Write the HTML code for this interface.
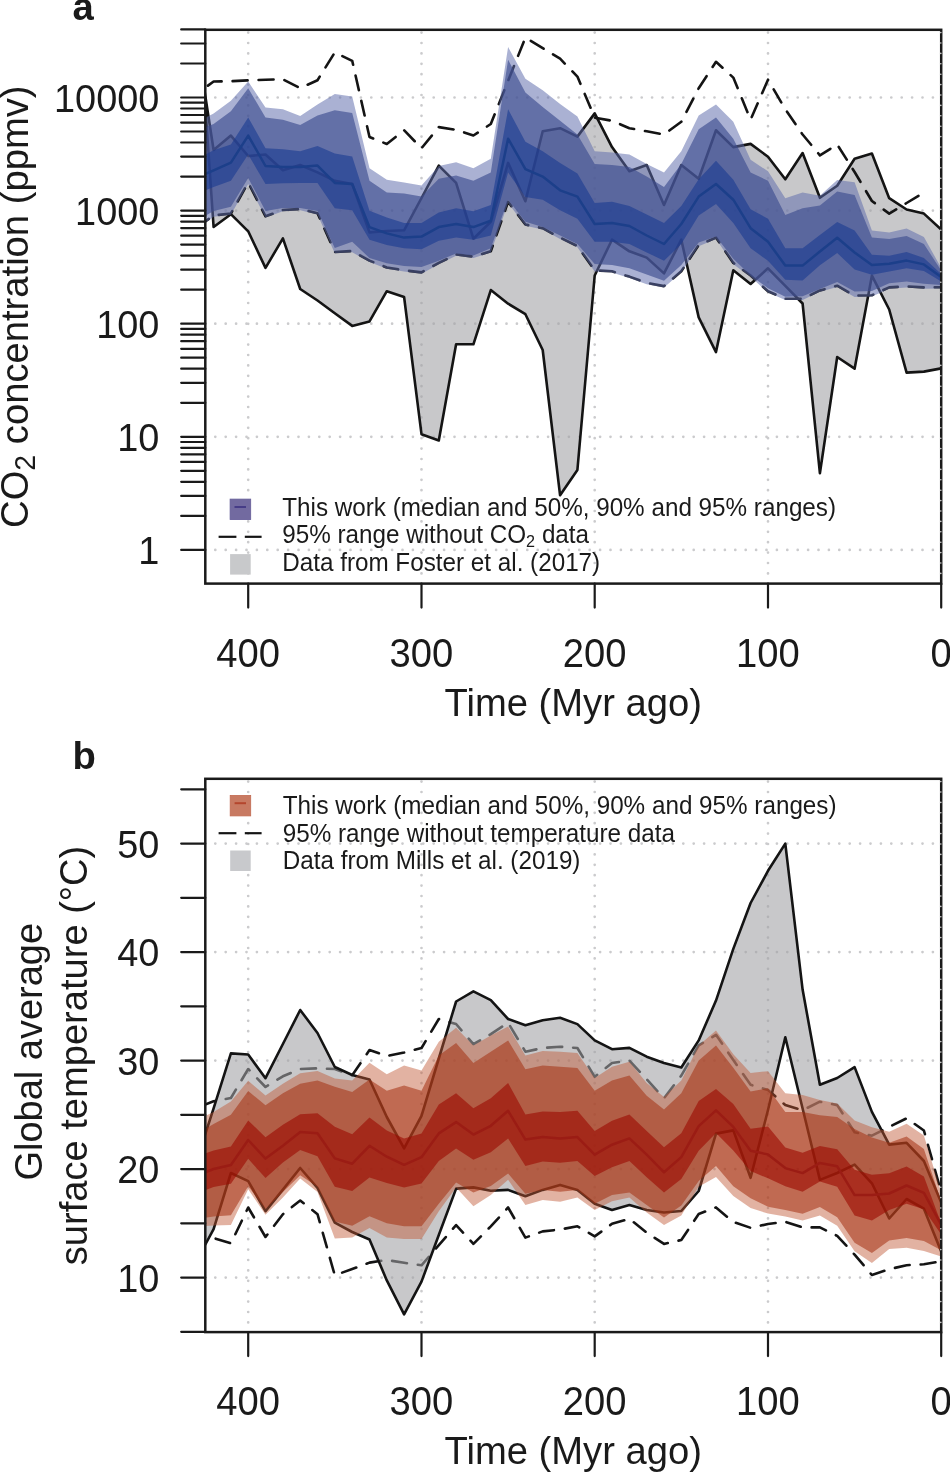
<!DOCTYPE html>
<html><head><meta charset="utf-8"><style>html,body{margin:0;padding:0;background:#fff;width:950px;height:1473px;overflow:hidden}svg{display:block;will-change:transform}</style></head>
<body>
<svg width="950" height="1473" viewBox="0 0 950 1473">
<defs>
<clipPath id="ca"><rect x="205.3" y="29.8" width="735.9" height="553.8"/></clipPath>
<clipPath id="cb"><rect x="205.3" y="778.8" width="735.9" height="553.3"/></clipPath>
</defs>
<style>
.grid{stroke:#cbcbcd;stroke-width:2.7;stroke-dasharray:0.01 10.39;stroke-linecap:round;fill:none}
.tick{stroke:#1a1a1a;stroke-width:2.2;stroke-linecap:round}
.lab{font-family:"Liberation Sans", sans-serif;font-size:38.2px;fill:#1a1a1a}
.dash{fill:none;stroke:#141414;stroke-width:2.6;stroke-dasharray:15 11;stroke-linecap:round;stroke-linejoin:round}
.blk{fill:none;stroke:#141414;stroke-width:2.6;stroke-linejoin:round}
</style>
<rect width="950" height="1473" fill="#fff"/>
<g clip-path="url(#ca)">
<line x1="248.2" y1="32.6" x2="248.2" y2="583.6" class="grid"/>
<line x1="421.5" y1="32.6" x2="421.5" y2="583.6" class="grid"/>
<line x1="594.7" y1="32.6" x2="594.7" y2="583.6" class="grid"/>
<line x1="768.0" y1="32.6" x2="768.0" y2="583.6" class="grid"/>
<line x1="941.2" y1="32.6" x2="941.2" y2="583.6" class="grid"/>
<line x1="215.3" y1="549.9" x2="941.2" y2="549.9" class="grid"/>
<line x1="215.3" y1="436.8" x2="941.2" y2="436.8" class="grid"/>
<line x1="215.3" y1="323.7" x2="941.2" y2="323.7" class="grid"/>
<line x1="215.3" y1="210.6" x2="941.2" y2="210.6" class="grid"/>
<line x1="215.3" y1="97.5" x2="941.2" y2="97.5" class="grid"/>
<polygon points="204.0,87.5 213.6,150.0 230.9,135.6 248.2,156.0 265.5,154.5 282.9,170.3 300.2,165.0 317.5,172.4 334.8,180.8 352.2,184.0 369.5,232.4 386.8,231.0 404.1,230.3 421.5,198.0 438.8,165.6 456.1,182.9 473.4,238.7 490.8,221.8 508.1,162.9 525.4,201.2 542.7,131.3 560.1,128.2 577.4,136.6 594.7,113.4 612.0,147.1 629.4,171.3 646.7,165.0 664.0,205.0 681.3,165.0 698.7,178.7 716.0,130.3 733.3,147.1 750.6,143.9 768.0,156.7 785.3,179.3 802.6,153.0 819.9,197.8 837.2,185.7 854.6,158.7 871.9,153.5 889.2,198.2 906.6,209.5 923.9,213.6 941.2,229.5 941.2,368.4 923.9,371.6 906.6,372.6 889.2,309.5 871.9,275.7 854.6,368.7 837.2,357.0 819.9,473.2 802.6,303.5 785.3,285.8 768.0,268.3 750.6,284.0 733.3,270.3 716.0,352.1 698.7,317.4 681.3,239.7 664.0,273.4 646.7,257.6 629.4,251.3 612.0,239.7 594.7,275.5 577.4,470.0 560.1,495.3 542.7,350.0 525.4,314.2 508.1,303.7 490.8,290.1 473.4,344.3 456.1,344.3 438.8,440.5 421.5,434.2 404.1,297.0 386.8,291.2 369.5,321.4 352.2,325.9 334.8,313.2 317.5,300.5 300.2,289.0 282.9,238.4 265.5,267.9 248.2,231.3 230.9,214.2 213.6,227.0 204.0,87.5" fill="rgb(160,160,164)" fill-opacity="0.58"/>
<polyline points="204.0,88.5 213.6,81.5 230.9,81.2 248.2,80.3 265.5,79.7 282.9,79.3 300.2,88.2 317.5,80.2 334.8,52.4 352.2,60.8 369.5,137.0 386.8,144.0 404.1,130.3 421.5,148.2 438.8,127.1 456.1,129.8 473.4,135.5 490.8,124.0 508.1,80.8 525.4,37.6 542.7,48.2 560.1,58.7 577.4,76.6 594.7,117.6 612.0,120.8 629.4,128.2 646.7,131.3 664.0,134.5 681.3,121.8 698.7,88.2 716.0,61.8 733.3,77.6 750.6,119.7 768.0,79.7 785.3,109.2 802.6,134.5 819.9,155.3 837.2,144.5 854.6,172.0 871.9,201.0 889.2,213.6 906.6,203.0 923.9,192.6" class="dash" stroke-dashoffset="21.1"/>
<polyline points="204.0,222.4 213.6,215.5 230.9,213.5 248.2,182.6 265.5,216.3 282.9,210.0 300.2,209.0 317.5,213.2 334.8,252.0 352.2,251.0 369.5,260.6 386.8,267.5 404.1,270.3 421.5,272.4 438.8,262.9 456.1,254.5 473.4,256.6 490.8,251.3 508.1,201.8 525.4,224.5 542.7,228.2 560.1,237.6 577.4,246.0 594.7,270.3 612.0,271.3 629.4,276.6 646.7,282.9 664.0,286.1 681.3,271.3 698.7,245.0 716.0,237.6 733.3,262.9 750.6,275.5 768.0,291.3 785.3,298.8 802.6,298.8 819.9,290.4 837.2,285.7 854.6,295.6 871.9,295.2 889.2,287.4 906.6,286.3 923.9,287.4 941.2,287.2" class="dash" stroke-dashoffset="9.0"/>
<polyline points="204.0,87.5 213.6,150.0 230.9,135.6 248.2,156.0 265.5,154.5 282.9,170.3 300.2,165.0 317.5,172.4 334.8,180.8 352.2,184.0 369.5,232.4 386.8,231.0 404.1,230.3 421.5,198.0 438.8,165.6 456.1,182.9 473.4,238.7 490.8,221.8 508.1,162.9 525.4,201.2 542.7,131.3 560.1,128.2 577.4,136.6 594.7,113.4 612.0,147.1 629.4,171.3 646.7,165.0 664.0,205.0 681.3,165.0 698.7,178.7 716.0,130.3 733.3,147.1 750.6,143.9 768.0,156.7 785.3,179.3 802.6,153.0 819.9,197.8 837.2,185.7 854.6,158.7 871.9,153.5 889.2,198.2 906.6,209.5 923.9,213.6 941.2,229.5" class="blk"/>
<polyline points="204.0,87.5 213.6,227.0 230.9,214.2 248.2,231.3 265.5,267.9 282.9,238.4 300.2,289.0 317.5,300.5 334.8,313.2 352.2,325.9 369.5,321.4 386.8,291.2 404.1,297.0 421.5,434.2 438.8,440.5 456.1,344.3 473.4,344.3 490.8,290.1 508.1,303.7 525.4,314.2 542.7,350.0 560.1,495.3 577.4,470.0 594.7,275.5 612.0,239.7 629.4,251.3 646.7,257.6 664.0,273.4 681.3,239.7 698.7,317.4 716.0,352.1 733.3,270.3 750.6,284.0 768.0,268.3 785.3,285.8 802.6,303.5 819.9,473.2 837.2,357.0 854.6,368.7 871.9,275.7 889.2,309.5 906.6,372.6 923.9,371.6 941.2,368.4" class="blk"/>
<polygon points="204.0,118.5 213.6,113.4 230.9,100.7 248.2,81.5 265.5,107.5 282.9,109.2 300.2,116.0 317.5,104.6 334.8,94.1 352.2,96.6 369.5,168.2 386.8,179.7 404.1,182.5 421.5,185.4 438.8,166.0 456.1,162.3 473.4,168.2 490.8,158.7 508.1,47.1 525.4,78.7 542.7,90.3 560.1,104.0 577.4,116.6 594.7,151.3 612.0,152.4 629.4,154.5 646.7,164.0 664.0,172.4 681.3,151.3 698.7,115.5 716.0,104.6 733.3,121.8 750.6,159.7 768.0,171.3 785.3,198.3 802.6,192.6 819.9,195.8 837.2,180.0 854.6,182.2 871.9,230.4 889.2,232.6 906.6,228.6 923.9,237.0 941.2,268.0 941.2,288.5 923.9,288.7 906.6,287.6 889.2,288.7 871.9,296.5 854.6,296.9 837.2,287.0 819.9,291.7 802.6,300.1 785.3,300.1 768.0,292.6 750.6,276.8 733.3,264.2 716.0,238.9 698.7,246.3 681.3,272.6 664.0,287.4 646.7,284.2 629.4,277.9 612.0,272.6 594.7,271.6 577.4,247.3 560.1,238.9 542.7,229.5 525.4,225.8 508.1,203.1 490.8,252.6 473.4,257.9 456.1,255.8 438.8,264.2 421.5,273.7 404.1,271.6 386.8,268.8 369.5,261.9 352.2,252.3 334.8,253.3 317.5,214.5 300.2,210.3 282.9,211.3 265.5,217.6 248.2,183.9 230.9,214.8 213.6,216.8 204.0,223.7" fill="rgb(92,105,170)" fill-opacity="0.52"/>
<polygon points="204.0,127.7 213.6,124.0 230.9,111.3 248.2,88.3 265.5,117.6 282.9,119.7 300.2,125.0 317.5,115.5 334.8,110.3 352.2,113.0 369.5,180.8 386.8,192.5 404.1,193.4 421.5,196.6 438.8,178.7 456.1,175.5 473.4,180.8 490.8,172.4 508.1,59.7 525.4,92.4 542.7,107.1 560.1,120.8 577.4,134.5 594.7,164.0 612.0,165.0 629.4,167.1 646.7,176.6 664.0,187.1 681.3,164.0 698.7,129.3 716.0,117.6 733.3,138.7 750.6,172.4 768.0,180.8 785.3,215.0 802.6,208.3 819.9,205.5 837.2,191.5 854.6,195.0 871.9,237.5 889.2,238.9 906.6,236.0 923.9,244.0 941.2,270.5 941.2,285.0 923.9,283.8 906.6,281.5 889.2,283.2 871.9,291.0 854.6,291.5 837.2,282.0 819.9,289.0 802.6,296.2 785.3,296.7 768.0,288.2 750.6,275.5 733.3,258.7 716.0,236.6 698.7,242.4 681.3,265.0 664.0,280.8 646.7,274.5 629.4,268.2 612.0,265.0 594.7,264.0 577.4,244.0 560.1,235.5 542.7,227.1 525.4,221.8 508.1,199.7 490.8,248.2 473.4,255.5 456.1,253.4 438.8,260.8 421.5,267.1 404.1,266.1 386.8,263.3 369.5,258.0 352.2,241.7 334.8,247.9 317.5,211.0 300.2,207.9 282.9,207.9 265.5,211.0 248.2,177.9 230.9,206.8 213.6,211.0 204.0,216.6" fill="rgb(62,77,143)" fill-opacity="0.65"/>
<polygon points="204.0,155.4 213.6,150.3 230.9,144.5 248.2,117.5 265.5,148.2 282.9,149.2 300.2,151.3 317.5,146.0 334.8,153.4 352.2,156.6 369.5,210.8 386.8,217.6 404.1,222.9 421.5,222.9 438.8,212.4 456.1,208.2 473.4,211.3 490.8,205.0 508.1,109.2 525.4,141.8 542.7,151.3 560.1,162.9 577.4,173.4 594.7,202.9 612.0,201.8 629.4,206.1 646.7,214.5 664.0,222.9 681.3,206.1 698.7,179.2 716.0,160.8 733.3,179.7 750.6,209.2 768.0,218.7 785.3,248.3 802.6,248.3 819.9,235.0 837.2,222.0 854.6,230.5 871.9,254.7 889.2,255.8 906.6,252.0 923.9,258.0 941.2,274.0 941.2,281.5 923.9,271.0 906.6,268.3 889.2,271.6 871.9,274.7 854.6,269.4 837.2,253.0 819.9,265.2 802.6,280.4 785.3,279.8 768.0,260.8 750.6,248.2 733.3,222.9 716.0,204.0 698.7,215.5 681.3,244.0 664.0,260.8 646.7,252.4 629.4,244.0 612.0,241.8 594.7,241.8 577.4,218.7 560.1,210.3 542.7,199.7 525.4,197.0 508.1,172.4 490.8,235.5 473.4,239.7 456.1,237.6 438.8,240.8 421.5,249.2 404.1,248.2 386.8,245.0 369.5,239.7 352.2,210.3 334.8,208.2 317.5,182.9 300.2,182.9 282.9,183.3 265.5,184.0 248.2,154.5 230.9,180.8 213.6,187.1 204.0,191.0" fill="rgb(25,59,145)" fill-opacity="0.6"/>
<polyline points="204.0,174.5 213.6,170.3 230.9,162.6 248.2,135.6 265.5,166.0 282.9,167.1 300.2,167.1 317.5,165.6 334.8,182.9 352.2,184.0 369.5,227.1 386.8,233.4 404.1,237.6 421.5,236.6 438.8,227.1 456.1,224.0 473.4,227.1 490.8,220.8 508.1,138.7 525.4,169.2 542.7,176.6 560.1,190.3 577.4,196.6 594.7,224.0 612.0,222.9 629.4,226.0 646.7,235.5 664.0,244.0 681.3,224.0 698.7,196.6 716.0,184.0 733.3,199.7 750.6,228.2 768.0,241.8 785.3,265.6 802.6,265.6 819.9,251.5 837.2,237.8 854.6,252.5 871.9,264.9 889.2,263.7 906.6,260.6 923.9,264.4 941.2,277.0" fill="none" stroke="#1c3f8a" stroke-width="2.5" stroke-linejoin="round"/>
</g>
<rect x="205.3" y="29.8" width="735.9" height="553.8" fill="none" stroke="#1a1a1a" stroke-width="2.5"/>
<line x1="181.2" y1="549.9" x2="205.3" y2="549.9" class="tick"/>
<line x1="181.2" y1="515.9" x2="205.3" y2="515.9" class="tick"/>
<line x1="181.2" y1="495.9" x2="205.3" y2="495.9" class="tick"/>
<line x1="181.2" y1="481.8" x2="205.3" y2="481.8" class="tick"/>
<line x1="181.2" y1="470.8" x2="205.3" y2="470.8" class="tick"/>
<line x1="181.2" y1="461.9" x2="205.3" y2="461.9" class="tick"/>
<line x1="181.2" y1="454.3" x2="205.3" y2="454.3" class="tick"/>
<line x1="181.2" y1="447.8" x2="205.3" y2="447.8" class="tick"/>
<line x1="181.2" y1="442.0" x2="205.3" y2="442.0" class="tick"/>
<line x1="181.2" y1="436.8" x2="205.3" y2="436.8" class="tick"/>
<line x1="181.2" y1="402.8" x2="205.3" y2="402.8" class="tick"/>
<line x1="181.2" y1="382.8" x2="205.3" y2="382.8" class="tick"/>
<line x1="181.2" y1="368.7" x2="205.3" y2="368.7" class="tick"/>
<line x1="181.2" y1="357.7" x2="205.3" y2="357.7" class="tick"/>
<line x1="181.2" y1="348.8" x2="205.3" y2="348.8" class="tick"/>
<line x1="181.2" y1="341.2" x2="205.3" y2="341.2" class="tick"/>
<line x1="181.2" y1="334.7" x2="205.3" y2="334.7" class="tick"/>
<line x1="181.2" y1="328.9" x2="205.3" y2="328.9" class="tick"/>
<line x1="181.2" y1="323.7" x2="205.3" y2="323.7" class="tick"/>
<line x1="181.2" y1="289.7" x2="205.3" y2="289.7" class="tick"/>
<line x1="181.2" y1="269.7" x2="205.3" y2="269.7" class="tick"/>
<line x1="181.2" y1="255.6" x2="205.3" y2="255.6" class="tick"/>
<line x1="181.2" y1="244.6" x2="205.3" y2="244.6" class="tick"/>
<line x1="181.2" y1="235.7" x2="205.3" y2="235.7" class="tick"/>
<line x1="181.2" y1="228.1" x2="205.3" y2="228.1" class="tick"/>
<line x1="181.2" y1="221.6" x2="205.3" y2="221.6" class="tick"/>
<line x1="181.2" y1="215.8" x2="205.3" y2="215.8" class="tick"/>
<line x1="181.2" y1="210.6" x2="205.3" y2="210.6" class="tick"/>
<line x1="181.2" y1="176.6" x2="205.3" y2="176.6" class="tick"/>
<line x1="181.2" y1="156.6" x2="205.3" y2="156.6" class="tick"/>
<line x1="181.2" y1="142.5" x2="205.3" y2="142.5" class="tick"/>
<line x1="181.2" y1="131.5" x2="205.3" y2="131.5" class="tick"/>
<line x1="181.2" y1="122.6" x2="205.3" y2="122.6" class="tick"/>
<line x1="181.2" y1="115.0" x2="205.3" y2="115.0" class="tick"/>
<line x1="181.2" y1="108.5" x2="205.3" y2="108.5" class="tick"/>
<line x1="181.2" y1="102.7" x2="205.3" y2="102.7" class="tick"/>
<line x1="181.2" y1="97.5" x2="205.3" y2="97.5" class="tick"/>
<line x1="181.2" y1="63.5" x2="205.3" y2="63.5" class="tick"/>
<line x1="181.2" y1="43.5" x2="205.3" y2="43.5" class="tick"/>
<line x1="181.2" y1="29.4" x2="205.3" y2="29.4" class="tick"/>
<line x1="248.2" y1="583.6" x2="248.2" y2="607.6" class="tick"/>
<line x1="421.5" y1="583.6" x2="421.5" y2="607.6" class="tick"/>
<line x1="594.7" y1="583.6" x2="594.7" y2="607.6" class="tick"/>
<line x1="768.0" y1="583.6" x2="768.0" y2="607.6" class="tick"/>
<line x1="941.2" y1="583.6" x2="941.2" y2="607.6" class="tick"/>
<text transform="translate(159.40,563.90) scale(1,1.040)" text-anchor="end" class="lab" style="font-size:37.90px">1</text>
<text transform="translate(159.40,450.80) scale(1,1.040)" text-anchor="end" class="lab" style="font-size:37.90px">10</text>
<text transform="translate(159.40,337.70) scale(1,1.040)" text-anchor="end" class="lab" style="font-size:37.90px">100</text>
<text transform="translate(159.40,224.60) scale(1,1.040)" text-anchor="end" class="lab" style="font-size:37.90px">1000</text>
<text transform="translate(159.40,111.50) scale(1,1.040)" text-anchor="end" class="lab" style="font-size:37.90px">10000</text>
<text transform="translate(248.20,666.50) scale(1,1.045)" text-anchor="middle" class="lab">400</text>
<text transform="translate(421.45,666.50) scale(1,1.045)" text-anchor="middle" class="lab">300</text>
<text transform="translate(594.70,666.50) scale(1,1.045)" text-anchor="middle" class="lab">200</text>
<text transform="translate(767.95,666.50) scale(1,1.045)" text-anchor="middle" class="lab">100</text>
<text transform="translate(941.20,666.50) scale(1,1.045)" text-anchor="middle" class="lab">0</text>
<text transform="translate(573.25,716.30) scale(1,1.010)" text-anchor="middle" class="lab">Time (Myr ago)</text>
<line x1="940.8" y1="32.6" x2="940.8" y2="580.6" class="grid" style="stroke:#d4d4d4;stroke-width:1.6"/>
<rect x="230.1" y="499.1" width="20.6" height="20.5" fill="#726aa0" stroke="#655c98" stroke-width="0.8"/>
<line x1="234.5" y1="507" x2="246" y2="507" stroke="#463c87" stroke-width="2"/>
<line x1="218.6" y1="536.8" x2="236.4" y2="536.8" stroke="#141414" stroke-width="2.2"/>
<line x1="244.8" y1="536.8" x2="261.6" y2="536.8" stroke="#141414" stroke-width="2.2"/>
<rect x="230.1" y="554.1" width="20.6" height="20.5" fill="#c8c9cb"/>
<text transform="translate(282.20,516.30) scale(1,1.030)" class="lab" style="font-size:24.25px">This work (median and 50%, 90% and 95% ranges)</text>
<text transform="translate(282.20,543.40) scale(1,1.030)" class="lab" style="font-size:24.25px">95% range without CO<tspan dy="3.9" style="font-size:16.2px">2</tspan><tspan dy="-3.9"> data</tspan></text>
<text transform="translate(282.20,570.50) scale(1,1.030)" class="lab" style="font-size:24.25px">Data from Foster et al. (2017)</text>
<text transform="translate(28.40,306.70) rotate(-90) scale(1,1.030)" text-anchor="middle" class="lab" style="font-size:38.20px">CO<tspan dy="6.8" style="font-size:28.5px">2</tspan><tspan dy="-6.8"> concentration (ppmv)</tspan></text>
<text x="72.6" y="20" class="lab" style="font-weight:bold">a</text>
<g clip-path="url(#cb)">
<line x1="248.2" y1="781.6" x2="248.2" y2="1332.1" class="grid"/>
<line x1="421.5" y1="781.6" x2="421.5" y2="1332.1" class="grid"/>
<line x1="594.7" y1="781.6" x2="594.7" y2="1332.1" class="grid"/>
<line x1="768.0" y1="781.6" x2="768.0" y2="1332.1" class="grid"/>
<line x1="941.2" y1="781.6" x2="941.2" y2="1332.1" class="grid"/>
<line x1="215.3" y1="1277.6" x2="941.2" y2="1277.6" class="grid"/>
<line x1="215.3" y1="1169.1" x2="941.2" y2="1169.1" class="grid"/>
<line x1="215.3" y1="1060.6" x2="941.2" y2="1060.6" class="grid"/>
<line x1="215.3" y1="952.1" x2="941.2" y2="952.1" class="grid"/>
<line x1="215.3" y1="843.6" x2="941.2" y2="843.6" class="grid"/>
<polyline points="204.0,1105.0 213.6,1101.3 230.9,1098.0 248.2,1069.0 265.5,1087.0 282.9,1076.3 300.2,1069.0 317.5,1068.3 334.8,1069.0 352.2,1075.3 369.5,1050.0 386.8,1056.0 404.1,1052.5 421.5,1048.0 438.8,1019.0 456.1,1024.0 473.4,1044.2 490.8,1034.1 508.1,1022.8 525.4,1051.7 542.7,1048.0 560.1,1046.7 577.4,1048.0 594.7,1076.8 612.0,1063.0 629.4,1060.5 646.7,1079.3 664.0,1098.2 681.3,1075.6 698.7,1045.4 716.0,1034.8 733.3,1060.0 750.6,1084.8 768.0,1089.9 785.3,1105.1 802.6,1110.2 819.9,1101.7 837.2,1105.1 854.6,1132.3 871.9,1135.7 889.2,1126.9 906.6,1118.3 923.9,1130.5 941.2,1192.0" class="dash" stroke-dashoffset="3.4"/>
<polyline points="204.0,1236.0 213.6,1238.0 230.9,1243.3 248.2,1207.5 265.5,1237.0 282.9,1214.2 300.2,1200.5 317.5,1214.2 334.8,1275.3 352.2,1269.0 369.5,1262.6 386.8,1260.0 404.1,1262.8 421.5,1265.3 438.8,1245.2 456.1,1225.1 473.4,1243.9 490.8,1226.3 508.1,1207.5 525.4,1237.6 542.7,1231.4 560.1,1229.5 577.4,1226.3 594.7,1236.4 612.0,1223.8 629.4,1218.8 646.7,1232.6 664.0,1243.9 681.3,1240.0 698.7,1214.0 716.0,1207.4 733.3,1222.0 750.6,1227.8 768.0,1224.0 785.3,1221.8 802.6,1227.4 819.9,1227.4 837.2,1235.9 854.6,1254.6 871.9,1275.0 889.2,1269.2 906.6,1265.2 923.9,1264.3 941.2,1261.3" class="dash" stroke-dashoffset="14.0"/>
<polygon points="204.0,1138.0 213.6,1108.4 230.9,1053.4 248.2,1054.5 265.5,1078.2 282.9,1044.0 300.2,1010.0 317.5,1033.0 334.8,1067.0 352.2,1075.0 369.5,1079.5 386.8,1117.0 404.1,1148.4 421.5,1115.8 438.8,1058.5 456.1,1001.5 473.4,991.4 490.8,1000.2 508.1,1019.0 525.4,1025.3 542.7,1020.3 560.1,1017.8 577.4,1024.1 594.7,1040.4 612.0,1049.2 629.4,1047.9 646.7,1056.7 664.0,1063.0 681.3,1067.5 698.7,1040.4 716.0,1000.6 733.3,948.9 750.6,903.0 768.0,870.8 785.3,843.6 802.6,989.6 819.9,1084.8 837.2,1078.0 854.6,1067.1 871.9,1111.9 889.2,1144.6 906.6,1142.8 923.9,1161.0 941.2,1202.6 941.2,1251.5 923.9,1208.7 906.6,1199.0 889.2,1218.5 871.9,1183.3 854.6,1164.6 837.2,1173.0 819.9,1179.9 802.6,1108.5 785.3,1037.2 768.0,1110.0 750.6,1177.8 733.3,1130.4 716.0,1133.6 698.7,1191.0 681.3,1211.0 664.0,1212.5 646.7,1210.0 629.4,1205.0 612.0,1210.0 594.7,1203.7 577.4,1189.9 560.1,1184.9 542.7,1189.9 525.4,1196.2 508.1,1189.9 490.8,1190.7 473.4,1187.4 456.1,1188.6 438.8,1235.0 421.5,1281.6 404.1,1314.3 386.8,1280.4 369.5,1239.5 352.2,1232.0 334.8,1222.6 317.5,1188.0 300.2,1168.0 282.9,1189.6 265.5,1211.2 248.2,1181.2 230.9,1173.0 213.6,1229.2 204.0,1247.0" fill="rgb(160,160,164)" fill-opacity="0.58"/>
<polyline points="204.0,1138.0 213.6,1108.4 230.9,1053.4 248.2,1054.5 265.5,1078.2 282.9,1044.0 300.2,1010.0 317.5,1033.0 334.8,1067.0 352.2,1075.0 369.5,1079.5 386.8,1117.0 404.1,1148.4 421.5,1115.8 438.8,1058.5 456.1,1001.5 473.4,991.4 490.8,1000.2 508.1,1019.0 525.4,1025.3 542.7,1020.3 560.1,1017.8 577.4,1024.1 594.7,1040.4 612.0,1049.2 629.4,1047.9 646.7,1056.7 664.0,1063.0 681.3,1067.5 698.7,1040.4 716.0,1000.6 733.3,948.9 750.6,903.0 768.0,870.8 785.3,843.6 802.6,989.6 819.9,1084.8 837.2,1078.0 854.6,1067.1 871.9,1111.9 889.2,1144.6 906.6,1142.8 923.9,1161.0 941.2,1202.6" class="blk"/>
<polyline points="204.0,1247.0 213.6,1229.2 230.9,1173.0 248.2,1181.2 265.5,1211.2 282.9,1189.6 300.2,1168.0 317.5,1188.0 334.8,1222.6 352.2,1232.0 369.5,1239.5 386.8,1280.4 404.1,1314.3 421.5,1281.6 438.8,1235.0 456.1,1188.6 473.4,1187.4 490.8,1190.7 508.1,1189.9 525.4,1196.2 542.7,1189.9 560.1,1184.9 577.4,1189.9 594.7,1203.7 612.0,1210.0 629.4,1205.0 646.7,1210.0 664.0,1212.5 681.3,1211.0 698.7,1191.0 716.0,1133.6 733.3,1130.4 750.6,1177.8 768.0,1110.0 785.3,1037.2 802.6,1108.5 819.9,1179.9 837.2,1173.0 854.6,1164.6 871.9,1183.3 889.2,1218.5 906.6,1199.0 923.9,1208.7 941.2,1251.5" class="blk"/>
<polygon points="204.0,1116.5 213.6,1112.0 230.9,1101.5 248.2,1080.8 265.5,1095.4 282.9,1083.7 300.2,1073.2 317.5,1071.0 334.8,1078.4 352.2,1080.5 369.5,1062.8 386.8,1074.2 404.1,1065.5 421.5,1070.6 438.8,1041.7 456.1,1027.8 473.4,1045.4 490.8,1035.4 508.1,1026.6 525.4,1055.5 542.7,1051.0 560.1,1051.7 577.4,1053.0 594.7,1078.1 612.0,1066.8 629.4,1061.8 646.7,1083.1 664.0,1096.9 681.3,1080.6 698.7,1045.4 716.0,1030.4 733.3,1054.2 750.6,1072.9 768.0,1071.2 785.3,1093.2 802.6,1094.9 819.9,1100.0 837.2,1103.4 854.6,1120.4 871.9,1127.2 889.2,1131.8 906.6,1123.8 923.9,1135.4 941.2,1192.8 941.2,1256.4 923.9,1250.9 906.6,1247.8 889.2,1249.0 871.9,1263.1 854.6,1251.2 837.2,1225.7 819.9,1215.5 802.6,1220.6 785.3,1216.4 768.0,1213.5 750.6,1208.1 733.3,1195.9 716.0,1177.1 698.7,1186.7 681.3,1215.6 664.0,1225.1 646.7,1212.5 629.4,1197.4 612.0,1201.2 594.7,1210.0 577.4,1197.4 560.1,1201.8 542.7,1200.0 525.4,1205.0 508.1,1179.8 490.8,1194.9 473.4,1206.2 456.1,1187.4 438.8,1211.3 421.5,1238.9 404.1,1238.9 386.8,1237.4 369.5,1227.9 352.2,1237.4 334.8,1238.4 317.5,1192.1 300.2,1178.4 282.9,1197.4 265.5,1214.8 248.2,1189.2 230.9,1225.0 213.6,1225.5 204.0,1226.0" fill="rgb(191,84,49)" fill-opacity="0.45"/>
<polygon points="204.0,1129.5 213.6,1124.0 230.9,1114.7 248.2,1091.0 265.5,1105.2 282.9,1093.2 300.2,1083.7 317.5,1080.5 334.8,1086.8 352.2,1092.1 369.5,1079.5 386.8,1090.7 404.1,1085.6 421.5,1090.7 438.8,1055.5 456.1,1042.9 473.4,1063.0 490.8,1051.7 508.1,1040.4 525.4,1069.3 542.7,1065.5 560.1,1066.8 577.4,1068.0 594.7,1090.7 612.0,1080.6 629.4,1075.6 646.7,1095.7 664.0,1109.5 681.3,1093.2 698.7,1060.5 716.0,1045.5 733.3,1067.8 750.6,1091.6 768.0,1088.2 785.3,1111.9 802.6,1111.9 819.9,1115.3 837.2,1117.0 854.6,1128.9 871.9,1137.4 889.2,1142.8 906.6,1136.6 923.9,1148.9 941.2,1201.4 941.2,1250.3 923.9,1241.1 906.6,1238.0 889.2,1240.5 871.9,1252.9 854.6,1242.7 837.2,1217.2 819.9,1207.0 802.6,1213.8 785.3,1209.9 768.0,1206.8 750.6,1198.2 733.3,1186.2 716.0,1166.0 698.7,1181.0 681.3,1205.6 664.0,1217.5 646.7,1205.0 629.4,1192.4 612.0,1194.9 594.7,1203.7 577.4,1189.9 560.1,1191.8 542.7,1189.9 525.4,1193.7 508.1,1173.6 490.8,1186.1 473.4,1192.4 456.1,1182.4 438.8,1203.7 421.5,1226.3 404.1,1226.3 386.8,1223.2 369.5,1216.3 352.2,1225.8 334.8,1221.6 317.5,1186.8 300.2,1175.3 282.9,1192.1 265.5,1209.0 248.2,1186.3 230.9,1215.2 213.6,1216.5 204.0,1218.0" fill="rgb(164,47,17)" fill-opacity="0.55"/>
<polygon points="204.0,1153.8 213.6,1150.5 230.9,1146.6 248.2,1120.5 265.5,1137.2 282.9,1124.7 300.2,1114.2 317.5,1113.2 334.8,1126.8 352.2,1134.2 369.5,1117.4 386.8,1130.5 404.1,1138.4 421.5,1133.4 438.8,1104.5 456.1,1093.2 473.4,1108.2 490.8,1098.2 508.1,1083.1 525.4,1114.5 542.7,1111.4 560.1,1112.0 577.4,1110.8 594.7,1130.9 612.0,1120.8 629.4,1114.5 646.7,1130.9 664.0,1147.2 681.3,1133.2 698.7,1101.0 716.0,1089.0 733.3,1104.0 750.6,1128.7 768.0,1126.4 785.3,1147.6 802.6,1152.7 819.9,1145.9 837.2,1149.3 854.6,1169.7 871.9,1174.8 889.2,1173.3 906.6,1166.6 923.9,1176.4 941.2,1223.4 941.2,1234.4 923.9,1209.3 906.6,1203.8 889.2,1210.0 871.9,1220.6 854.6,1215.5 837.2,1186.7 819.9,1181.6 802.6,1191.8 785.3,1186.3 768.0,1178.3 750.6,1171.1 733.3,1150.4 716.0,1133.0 698.7,1150.8 681.3,1179.1 664.0,1192.4 646.7,1177.3 629.4,1161.0 612.0,1167.3 594.7,1176.1 577.4,1161.0 560.1,1162.8 542.7,1161.5 525.4,1166.0 508.1,1138.4 490.8,1152.2 473.4,1159.7 456.1,1148.4 438.8,1161.0 421.5,1183.6 404.1,1187.4 386.8,1183.0 369.5,1177.4 352.2,1191.0 334.8,1186.8 317.5,1156.3 300.2,1150.0 282.9,1162.6 265.5,1177.9 248.2,1158.8 230.9,1183.8 213.6,1187.0 204.0,1190.5" fill="rgb(155,9,0)" fill-opacity="0.6"/>
<polyline points="204.0,1172.7 213.6,1169.0 230.9,1165.0 248.2,1140.0 265.5,1158.6 282.9,1145.8 300.2,1132.1 317.5,1133.2 334.8,1158.4 352.2,1163.7 369.5,1145.8 386.8,1156.7 404.1,1164.8 421.5,1157.2 438.8,1133.4 456.1,1122.1 473.4,1134.6 490.8,1125.8 508.1,1110.8 525.4,1139.6 542.7,1137.1 560.1,1138.6 577.4,1137.1 594.7,1154.7 612.0,1144.7 629.4,1138.4 646.7,1154.7 664.0,1172.3 681.3,1157.1 698.7,1126.2 716.0,1110.3 733.3,1126.9 750.6,1150.8 768.0,1154.4 785.3,1168.1 802.6,1173.1 819.9,1162.9 837.2,1166.3 854.6,1195.1 871.9,1195.1 889.2,1193.5 906.6,1185.5 923.9,1192.8 941.2,1224.6" fill="none" stroke="#9b1c14" stroke-width="2.5" stroke-linejoin="round"/>
</g>
<rect x="205.3" y="778.8" width="735.9" height="553.3" fill="none" stroke="#1a1a1a" stroke-width="2.5"/>
<line x1="181.2" y1="1331.8" x2="205.3" y2="1331.8" class="tick"/>
<line x1="181.2" y1="1277.6" x2="205.3" y2="1277.6" class="tick"/>
<line x1="181.2" y1="1223.3" x2="205.3" y2="1223.3" class="tick"/>
<line x1="181.2" y1="1169.1" x2="205.3" y2="1169.1" class="tick"/>
<line x1="181.2" y1="1114.8" x2="205.3" y2="1114.8" class="tick"/>
<line x1="181.2" y1="1060.6" x2="205.3" y2="1060.6" class="tick"/>
<line x1="181.2" y1="1006.3" x2="205.3" y2="1006.3" class="tick"/>
<line x1="181.2" y1="952.1" x2="205.3" y2="952.1" class="tick"/>
<line x1="181.2" y1="897.8" x2="205.3" y2="897.8" class="tick"/>
<line x1="181.2" y1="843.6" x2="205.3" y2="843.6" class="tick"/>
<line x1="181.2" y1="789.3" x2="205.3" y2="789.3" class="tick"/>
<line x1="248.2" y1="1332.1" x2="248.2" y2="1356.1" class="tick"/>
<line x1="421.5" y1="1332.1" x2="421.5" y2="1356.1" class="tick"/>
<line x1="594.7" y1="1332.1" x2="594.7" y2="1356.1" class="tick"/>
<line x1="768.0" y1="1332.1" x2="768.0" y2="1356.1" class="tick"/>
<line x1="941.2" y1="1332.1" x2="941.2" y2="1356.1" class="tick"/>
<text transform="translate(159.40,1291.60) scale(1,1.040)" text-anchor="end" class="lab" style="font-size:37.90px">10</text>
<text transform="translate(159.40,1183.10) scale(1,1.040)" text-anchor="end" class="lab" style="font-size:37.90px">20</text>
<text transform="translate(159.40,1074.60) scale(1,1.040)" text-anchor="end" class="lab" style="font-size:37.90px">30</text>
<text transform="translate(159.40,966.10) scale(1,1.040)" text-anchor="end" class="lab" style="font-size:37.90px">40</text>
<text transform="translate(159.40,857.60) scale(1,1.040)" text-anchor="end" class="lab" style="font-size:37.90px">50</text>
<text transform="translate(248.20,1414.80) scale(1,1.045)" text-anchor="middle" class="lab">400</text>
<text transform="translate(421.45,1414.80) scale(1,1.045)" text-anchor="middle" class="lab">300</text>
<text transform="translate(594.70,1414.80) scale(1,1.045)" text-anchor="middle" class="lab">200</text>
<text transform="translate(767.95,1414.80) scale(1,1.045)" text-anchor="middle" class="lab">100</text>
<text transform="translate(941.20,1414.80) scale(1,1.045)" text-anchor="middle" class="lab">0</text>
<text transform="translate(573.25,1464.00) scale(1,1.010)" text-anchor="middle" class="lab">Time (Myr ago)</text>
<line x1="940.8" y1="781.6" x2="940.8" y2="1329.1" class="grid" style="stroke:#d4d4d4;stroke-width:1.6"/>
<rect x="230.2" y="795.4" width="20.5" height="20.5" fill="#c87a62" stroke="#c26a50" stroke-width="0.8"/>
<line x1="234.6" y1="803.2" x2="246" y2="803.2" stroke="#b4462d" stroke-width="2"/>
<line x1="218.6" y1="833.2" x2="236.4" y2="833.2" stroke="#141414" stroke-width="2.2"/>
<line x1="244.8" y1="833.2" x2="261.6" y2="833.2" stroke="#141414" stroke-width="2.2"/>
<rect x="230.2" y="850.5" width="20.5" height="20.5" fill="#c8c9cc"/>
<text transform="translate(282.70,814.40) scale(1,1.030)" class="lab" style="font-size:24.25px">This work (median and 50%, 90% and 95% ranges)</text>
<text transform="translate(282.70,841.50) scale(1,1.030)" class="lab" style="font-size:24.25px">95% range without temperature data</text>
<text transform="translate(282.70,868.60) scale(1,1.030)" class="lab" style="font-size:24.25px">Data from Mills et al. (2019)</text>
<text transform="translate(41.60,1051.75) rotate(-90) scale(1,1.030)" text-anchor="middle" class="lab" style="font-size:38.00px">Global average</text>
<text transform="translate(87.20,1055.45) rotate(-90) scale(1,1.030)" text-anchor="middle" class="lab" style="font-size:38.10px">surface temperature (°C)</text>
<text x="72.6" y="768.8" class="lab" style="font-weight:bold">b</text>
</svg>
</body></html>
